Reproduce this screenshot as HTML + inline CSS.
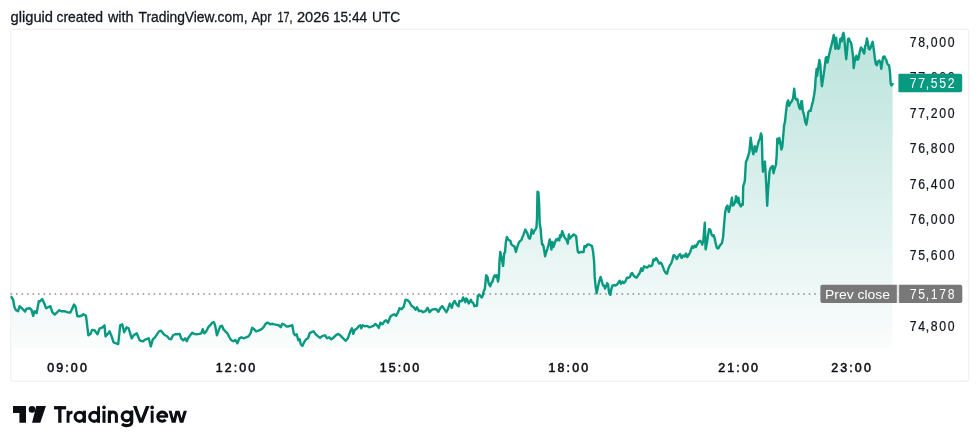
<!DOCTYPE html>
<html><head><meta charset="utf-8">
<style>
html,body{margin:0;padding:0;width:980px;height:448px;background:#ffffff;overflow:hidden;}
body{position:relative;font-family:"Liberation Sans", sans-serif;}
svg{position:absolute;left:0;top:0;display:block;will-change:transform;}
text{font-family:"Liberation Sans", sans-serif;}
</style></head>
<body>
<svg width="980" height="448" viewBox="0 0 980 448">
<defs>
<linearGradient id="fg" x1="0" y1="30" x2="0" y2="348" gradientUnits="userSpaceOnUse">
<stop offset="0" stop-color="#089981" stop-opacity="0.28"/>
<stop offset="1" stop-color="#089981" stop-opacity="0.02"/>
</linearGradient>
</defs>
<g font-size="14.4" fill="#131722" stroke="#131722" stroke-width="0.3"><text x="10.5" y="21.5" textLength="42.5" lengthAdjust="spacingAndGlyphs">gliguid</text><text x="56.5" y="21.5" textLength="46.5" lengthAdjust="spacingAndGlyphs">created</text><text x="108.0" y="21.5" textLength="25.5" lengthAdjust="spacingAndGlyphs">with</text><text x="138.5" y="21.5" textLength="109.0" lengthAdjust="spacingAndGlyphs">TradingView.com,</text><text x="251.5" y="21.5" textLength="20.0" lengthAdjust="spacingAndGlyphs">Apr</text><text x="277.5" y="21.5" textLength="15.0" lengthAdjust="spacingAndGlyphs">17,</text><text x="297.0" y="21.5" textLength="32.5" lengthAdjust="spacingAndGlyphs">2026</text><text x="333.0" y="21.5" textLength="34.0" lengthAdjust="spacingAndGlyphs">15:44</text><text x="372.0" y="21.5" textLength="28.2" lengthAdjust="spacingAndGlyphs">UTC</text></g>
<rect x="10.7" y="29.3" width="958" height="351.9" rx="2.5" fill="#fff" stroke="#f1f3f2" stroke-width="1.4"/>
<path d="M11.5 348 L11.5 297.1 L13.1 299.7 L14.5 307.2 L16.1 310.2 L18.1 311.2 L19.5 306.2 L21.7 308.2 L23.7 310.2 L25.1 311.6 L26.5 308.6 L29.7 308.2 L31.6 310.2 L33.2 315.8 L34.6 311.2 L36.6 313.2 L38.8 301.2 L40.2 301.2 L42.2 299.1 L44.2 303.2 L46.2 308.2 L48.2 307.2 L50.3 306.2 L52.3 312.2 L54.7 314.6 L57.3 312.2 L59.3 310.2 L61.3 311.2 L64.3 311.2 L67.3 312.2 L70.4 312.6 L72.4 308.2 L74 304.6 L75.4 306.2 L77.4 316.2 L79.4 316.2 L81.4 315.8 L83.4 314.2 L86 315.8 L88.4 335.3 L90.5 333.9 L92.1 329.9 L94.5 330.3 L97.5 334.3 L99.5 328.7 L102.5 327.3 L104.5 325.3 L105.5 336.3 L107.5 334.3 L109.5 331.3 L111.6 336.3 L113.6 342.4 L116.2 343.4 L118.2 344 L120.2 325.3 L122.2 324.3 L124.2 332.3 L126.6 327.3 L128.6 328.3 L131.7 338.3 L133.7 335.3 L136.7 333.3 L139.7 340.4 L142.7 341.4 L145.7 339.3 L148.7 338.3 L150.8 346.4 L152.8 339.3 L155 337.3 L157 334.3 L159 331.3 L161 330.7 L163.1 333.3 L165.1 335.3 L167.1 336.3 L169.1 338.7 L171.1 339.3 L173.1 335.3 L175.1 334.3 L177.1 334.3 L179.7 333.9 L181.2 338.3 L183.2 340.3 L185.2 338.3 L186.8 341.3 L188.2 337.9 L190.2 335.3 L192.2 332.7 L194.2 333.9 L196.2 334.3 L199.2 333.9 L201.3 333.3 L202.7 329.2 L204.3 333.3 L206.3 331.3 L208.3 327.2 L210.3 325.2 L212.3 322.6 L213.9 322.2 L215.3 326.2 L216.9 335.3 L218.7 330.3 L220.4 326.2 L222 325.8 L223.4 329.2 L225.4 331.3 L227.4 333.3 L229.4 337.3 L231.4 340.3 L233.4 341.3 L235.4 339.9 L237.4 343.3 L239.4 338.3 L241.5 337.3 L243.5 338.3 L246.1 337.3 L248.5 336.3 L250.5 333.3 L252.1 327.8 L254.1 329.2 L256.1 331.3 L258.5 330.7 L261.6 329.2 L263.6 327.2 L265.6 323.8 L267.6 322.6 L270.2 324.2 L272.6 323.8 L275.6 324.6 L278.6 325.2 L280.7 327.2 L282.3 323.8 L284.3 324.6 L286.7 326.6 L288.7 326.2 L290.7 325.8 L292.3 325.2 L293.7 333.3 L295.1 335.3 L296.7 334.3 L298.3 340.3 L299.7 339.3 L300.8 344.3 L302.4 346 L304 342.4 L306 339.3 L308 338.3 L309.6 333.3 L311.7 331.9 L313.7 331.3 L315.7 334.3 L318.1 336.3 L320.1 337.9 L322.5 335.9 L325.1 335.3 L327.1 338.3 L329.1 337.3 L331.2 339.3 L333.2 337.9 L335.8 335.3 L338.2 333.9 L340.2 335.3 L342.2 337.3 L344.2 339.3 L345.8 340.8 L347.8 338.3 L350.3 331.3 L351.9 328.3 L353.3 333.9 L354.7 329.9 L356.7 328.7 L358.7 326.3 L360.3 325.3 L361.3 328.3 L362.7 325.3 L364.7 326.3 L367.3 325.9 L369.3 327.3 L371.4 326.7 L373.4 325.9 L375.4 323.9 L377.4 325.9 L378.8 327.9 L380.4 322.7 L382.4 324.3 L384.4 321.3 L386 320.3 L388 322.7 L390.1 317.2 L392.1 315.2 L394.1 314.2 L396.1 315.8 L398.1 312.2 L399.5 308.2 L401.5 309.2 L403.5 307.2 L405.5 299.7 L407.5 300.2 L409.5 302.2 L411.6 305.8 L413.6 307.2 L415.6 309.8 L417 307.2 L419 311.2 L421 310.6 L423 312.2 L425.6 311.2 L427.6 307.8 L429.6 312.2 L431.7 309.8 L433.7 309.2 L436.3 309.2 L438.3 311.8 L440.3 308.2 L442.3 306.2 L444.3 309.2 L446.3 312.2 L447.7 309.7 L448.9 306 L449.8 303.6 L450.7 305.7 L451.9 307.8 L452.9 303.5 L454.6 300.9 L455.9 303.5 L457.2 305.1 L458.6 306.2 L459.4 300.9 L460.7 301.4 L461.8 301.1 L463.1 297.4 L464.2 300 L465.3 302.2 L466.1 298.4 L467.1 299.2 L468.7 303.5 L469.8 301.9 L470.9 299.8 L472 302.2 L473.3 303 L474.4 306.2 L475.7 305.7 L477 305.7 L477.8 296 L478.9 295 L480 295.2 L480.8 296.8 L481.9 297.4 L482.9 295 L483.7 291.2 L484.8 289.1 L486.2 275.3 L487.5 276.9 L488.6 283.1 L490.2 286.3 L491.2 283.1 L492.5 281.6 L493.8 276.9 L494.8 275.3 L495.9 276.9 L496.9 275.3 L498 281.6 L498.8 276.9 L499.5 261.2 L500.3 251.9 L501.1 255.8 L502.2 261.2 L503.1 265.9 L504.2 253.4 L505 252.7 L505.8 242.5 L506.9 237 L508.1 239.4 L509.4 240.2 L510.5 240.9 L511.2 244.1 L512.8 245.6 L514.4 246.4 L515.9 251.9 L517.2 247.2 L518.3 244.1 L519.4 241.7 L521.3 240.1 L523.3 235.1 L525.3 229.6 L527.3 233.1 L528.9 238.1 L530 238.6 L530.8 235.2 L531.7 229.4 L532.5 231.1 L533.3 233.6 L534.2 231.1 L535.4 229.4 L536.4 227.7 L537 218.5 L537.5 191.7 L538.4 192.5 L539.2 205.1 L539.7 223.5 L540.6 228.5 L541.4 238.6 L542.1 244.5 L543.1 244.5 L544.2 250.3 L545.1 256.2 L546.2 252 L547.2 249.5 L548.4 245.3 L549.8 239.4 L550.6 243.6 L551.4 249.5 L552.3 241.9 L553.4 247 L554.8 242.8 L556 239.4 L557.1 240.3 L558.1 238.6 L559.3 240.3 L560.1 235.2 L561 236.9 L562.2 231.1 L563.2 233.6 L564.3 236.9 L565.5 238.6 L566.8 240.3 L567.8 243.6 L568.9 234.4 L569.9 238.6 L571 236.9 L572.2 236.1 L573.5 234.4 L574.9 235.2 L576.1 236.1 L576.9 243.6 L577.7 251.2 L578.9 252.8 L580.2 252 L581.9 252 L583.6 252 L584.4 246.1 L585.8 247 L587.4 244.5 L589.1 244.5 L590.6 245.3 L592 246.1 L593.1 251.9 L594.1 261.3 L594.7 276.9 L595.6 286.3 L596.7 293.3 L597.8 287.8 L599.1 281.6 L600.6 276.9 L601.9 281.6 L603 285.5 L604.1 285.5 L605 288.6 L606.1 286.3 L607.2 283.1 L608.1 284.7 L609.2 293.3 L610.3 294.8 L611.3 289.4 L612.3 285.9 L613.9 285 L615.5 285.5 L617 284.7 L618.6 282.3 L619.7 280.8 L620.9 283.9 L622.5 281.6 L623.8 283.1 L625.3 281.6 L626.9 277.7 L628.4 277.7 L630 276.9 L631.1 273.8 L632.2 273 L633.4 275.3 L635 276.9 L636.6 277.7 L638.1 275.3 L639.7 273 L641.3 268.3 L642.5 270.9 L644.1 266.3 L645.9 267.2 L647.5 267.5 L649.1 265.6 L650.6 266.3 L652.2 265.2 L653.4 259.4 L654.5 260.5 L656.1 258.1 L657.7 260.5 L659 263.6 L660.5 262.6 L661.8 264.1 L663 267.1 L664.5 271.1 L666 273.2 L667 273.7 L668.1 269.6 L669.6 265.6 L671.1 263.6 L672.3 260.1 L673.6 255.1 L675.1 256.1 L676.9 259.1 L678.6 255.6 L680.1 254.1 L681.6 258.1 L683.1 255.6 L684.6 256.6 L686.1 253.6 L687.3 257.1 L688.6 255.1 L690 252.5 L691.3 248.6 L692.3 246.3 L693.4 247.8 L694.7 245.5 L695.9 247 L697.5 243.9 L698.6 241.6 L700.2 240.8 L701.3 242.3 L702.2 244.7 L703.3 240.8 L704.8 222.8 L705.6 249.4 L706.9 243.1 L708 235.3 L709.1 229.1 L710.3 229.8 L711.6 234.5 L712.7 236.1 L713.8 235.3 L714.7 238.4 L715.8 243.9 L716.9 247.8 L718.1 248.6 L719.4 246.3 L720.5 244.7 L722 243.1 L723.1 236.9 L724.1 224.4 L725.2 211.9 L726.3 207.2 L727.5 205.6 L728.8 211.9 L729.8 208 L730.9 204.1 L731.9 197.8 L732.8 205.6 L733.8 204.8 L735 202.5 L736.1 196.3 L736.9 198.6 L737.7 202.5 L738.4 197.8 L739.7 204.8 L740.8 206.4 L741.9 204.1 L742.8 204.8 L743.2 186.4 L744.8 181.1 L745.9 162.3 L747.5 158.3 L749.4 151.6 L750.7 137.7 L752.1 148.9 L753.4 154.3 L754.7 146.3 L756.1 151.6 L757.4 146.3 L758.8 140.9 L760.1 138.2 L760.9 133.4 L761.8 136.1 L762.5 164.5 L763 171.7 L764 163 L764.9 161.6 L765.4 168.8 L766.3 186.2 L767.2 205.8 L768 190.6 L768.8 181.9 L769.5 171.7 L770.6 168.1 L771.7 166.7 L772.7 165.9 L773.5 173.2 L774.6 168.8 L776 164.5 L776.7 155 L777.3 138.8 L778.2 143.2 L779.3 137.9 L780.2 142.3 L781.4 149.5 L782.3 146.8 L783.2 136.1 L784.1 125.4 L785 121.8 L785.9 112.9 L787.1 103 L788.2 100.4 L789.1 105.7 L790.4 103 L791.8 101.2 L793 98.6 L794.2 88.8 L795.3 98.1 L796.3 99.7 L797.3 98.9 L798.1 102.8 L799.2 107.5 L800.2 109.1 L801.3 101.3 L802 101.3 L802.8 110.6 L804.1 115.3 L805.2 121.6 L806.3 124.7 L807.2 120 L808.3 112.2 L809.4 110.6 L810.6 110.9 L811.9 105.2 L813 101.3 L814.1 95 L815 88.8 L815.6 79.4 L816.6 69 L817.1 75.8 L818 69.5 L819.4 59.9 L820.3 64 L821.2 79.2 L821.9 86.2 L823 79.2 L824.4 69.5 L825.8 57.8 L826.8 57.1 L827.5 62.6 L828.6 57.1 L829.5 52.9 L830.9 47.4 L832.3 41.9 L833.7 34.9 L834.7 41.9 L835.4 48.8 L836.1 37.7 L837.2 47.4 L838.3 48.8 L839.2 48.1 L840.2 39.1 L841 38.4 L841.7 41.2 L842.7 34.9 L843.4 32.8 L844.1 36.3 L845.2 48.8 L846.2 59.2 L847.1 50.2 L848 39.1 L848.9 38.4 L849.9 41.2 L851 42.5 L852.1 48.8 L853.1 57 L853.7 68.1 L854.5 62.6 L855.5 57.7 L856.4 55.7 L857.5 59.8 L858.6 58.4 L859.6 52.2 L861 47.4 L862.4 49.4 L863.3 52.2 L864.2 53.6 L865.1 46 L866.1 44.6 L866.9 38.4 L867.9 43.2 L868.6 48.7 L869.7 49.4 L870.7 47.4 L871.6 44.6 L872.7 41.8 L873.9 50.1 L874.8 57.7 L875.8 64 L876.9 65.3 L878 61.2 L879.4 60.5 L880.4 62.6 L881.3 68.8 L882.2 62.6 L883.1 57 L884.5 56.4 L885.5 59.1 L886.3 59.8 L886.9 62.6 L888 64.7 L889.1 65.3 L890 72.3 L890.7 83.3 L891.4 85.4 L892.6 84 L892.6 348 Z" fill="url(#fg)"/>
<line x1="10.5" y1="293.9" x2="820" y2="293.9" stroke="#8f8f8f" stroke-width="1.5" stroke-dasharray="1.6 3.905"/>
<path d="M11.5 297.1 L13.1 299.7 L14.5 307.2 L16.1 310.2 L18.1 311.2 L19.5 306.2 L21.7 308.2 L23.7 310.2 L25.1 311.6 L26.5 308.6 L29.7 308.2 L31.6 310.2 L33.2 315.8 L34.6 311.2 L36.6 313.2 L38.8 301.2 L40.2 301.2 L42.2 299.1 L44.2 303.2 L46.2 308.2 L48.2 307.2 L50.3 306.2 L52.3 312.2 L54.7 314.6 L57.3 312.2 L59.3 310.2 L61.3 311.2 L64.3 311.2 L67.3 312.2 L70.4 312.6 L72.4 308.2 L74 304.6 L75.4 306.2 L77.4 316.2 L79.4 316.2 L81.4 315.8 L83.4 314.2 L86 315.8 L88.4 335.3 L90.5 333.9 L92.1 329.9 L94.5 330.3 L97.5 334.3 L99.5 328.7 L102.5 327.3 L104.5 325.3 L105.5 336.3 L107.5 334.3 L109.5 331.3 L111.6 336.3 L113.6 342.4 L116.2 343.4 L118.2 344 L120.2 325.3 L122.2 324.3 L124.2 332.3 L126.6 327.3 L128.6 328.3 L131.7 338.3 L133.7 335.3 L136.7 333.3 L139.7 340.4 L142.7 341.4 L145.7 339.3 L148.7 338.3 L150.8 346.4 L152.8 339.3 L155 337.3 L157 334.3 L159 331.3 L161 330.7 L163.1 333.3 L165.1 335.3 L167.1 336.3 L169.1 338.7 L171.1 339.3 L173.1 335.3 L175.1 334.3 L177.1 334.3 L179.7 333.9 L181.2 338.3 L183.2 340.3 L185.2 338.3 L186.8 341.3 L188.2 337.9 L190.2 335.3 L192.2 332.7 L194.2 333.9 L196.2 334.3 L199.2 333.9 L201.3 333.3 L202.7 329.2 L204.3 333.3 L206.3 331.3 L208.3 327.2 L210.3 325.2 L212.3 322.6 L213.9 322.2 L215.3 326.2 L216.9 335.3 L218.7 330.3 L220.4 326.2 L222 325.8 L223.4 329.2 L225.4 331.3 L227.4 333.3 L229.4 337.3 L231.4 340.3 L233.4 341.3 L235.4 339.9 L237.4 343.3 L239.4 338.3 L241.5 337.3 L243.5 338.3 L246.1 337.3 L248.5 336.3 L250.5 333.3 L252.1 327.8 L254.1 329.2 L256.1 331.3 L258.5 330.7 L261.6 329.2 L263.6 327.2 L265.6 323.8 L267.6 322.6 L270.2 324.2 L272.6 323.8 L275.6 324.6 L278.6 325.2 L280.7 327.2 L282.3 323.8 L284.3 324.6 L286.7 326.6 L288.7 326.2 L290.7 325.8 L292.3 325.2 L293.7 333.3 L295.1 335.3 L296.7 334.3 L298.3 340.3 L299.7 339.3 L300.8 344.3 L302.4 346 L304 342.4 L306 339.3 L308 338.3 L309.6 333.3 L311.7 331.9 L313.7 331.3 L315.7 334.3 L318.1 336.3 L320.1 337.9 L322.5 335.9 L325.1 335.3 L327.1 338.3 L329.1 337.3 L331.2 339.3 L333.2 337.9 L335.8 335.3 L338.2 333.9 L340.2 335.3 L342.2 337.3 L344.2 339.3 L345.8 340.8 L347.8 338.3 L350.3 331.3 L351.9 328.3 L353.3 333.9 L354.7 329.9 L356.7 328.7 L358.7 326.3 L360.3 325.3 L361.3 328.3 L362.7 325.3 L364.7 326.3 L367.3 325.9 L369.3 327.3 L371.4 326.7 L373.4 325.9 L375.4 323.9 L377.4 325.9 L378.8 327.9 L380.4 322.7 L382.4 324.3 L384.4 321.3 L386 320.3 L388 322.7 L390.1 317.2 L392.1 315.2 L394.1 314.2 L396.1 315.8 L398.1 312.2 L399.5 308.2 L401.5 309.2 L403.5 307.2 L405.5 299.7 L407.5 300.2 L409.5 302.2 L411.6 305.8 L413.6 307.2 L415.6 309.8 L417 307.2 L419 311.2 L421 310.6 L423 312.2 L425.6 311.2 L427.6 307.8 L429.6 312.2 L431.7 309.8 L433.7 309.2 L436.3 309.2 L438.3 311.8 L440.3 308.2 L442.3 306.2 L444.3 309.2 L446.3 312.2 L447.7 309.7 L448.9 306 L449.8 303.6 L450.7 305.7 L451.9 307.8 L452.9 303.5 L454.6 300.9 L455.9 303.5 L457.2 305.1 L458.6 306.2 L459.4 300.9 L460.7 301.4 L461.8 301.1 L463.1 297.4 L464.2 300 L465.3 302.2 L466.1 298.4 L467.1 299.2 L468.7 303.5 L469.8 301.9 L470.9 299.8 L472 302.2 L473.3 303 L474.4 306.2 L475.7 305.7 L477 305.7 L477.8 296 L478.9 295 L480 295.2 L480.8 296.8 L481.9 297.4 L482.9 295 L483.7 291.2 L484.8 289.1 L486.2 275.3 L487.5 276.9 L488.6 283.1 L490.2 286.3 L491.2 283.1 L492.5 281.6 L493.8 276.9 L494.8 275.3 L495.9 276.9 L496.9 275.3 L498 281.6 L498.8 276.9 L499.5 261.2 L500.3 251.9 L501.1 255.8 L502.2 261.2 L503.1 265.9 L504.2 253.4 L505 252.7 L505.8 242.5 L506.9 237 L508.1 239.4 L509.4 240.2 L510.5 240.9 L511.2 244.1 L512.8 245.6 L514.4 246.4 L515.9 251.9 L517.2 247.2 L518.3 244.1 L519.4 241.7 L521.3 240.1 L523.3 235.1 L525.3 229.6 L527.3 233.1 L528.9 238.1 L530 238.6 L530.8 235.2 L531.7 229.4 L532.5 231.1 L533.3 233.6 L534.2 231.1 L535.4 229.4 L536.4 227.7 L537 218.5 L537.5 191.7 L538.4 192.5 L539.2 205.1 L539.7 223.5 L540.6 228.5 L541.4 238.6 L542.1 244.5 L543.1 244.5 L544.2 250.3 L545.1 256.2 L546.2 252 L547.2 249.5 L548.4 245.3 L549.8 239.4 L550.6 243.6 L551.4 249.5 L552.3 241.9 L553.4 247 L554.8 242.8 L556 239.4 L557.1 240.3 L558.1 238.6 L559.3 240.3 L560.1 235.2 L561 236.9 L562.2 231.1 L563.2 233.6 L564.3 236.9 L565.5 238.6 L566.8 240.3 L567.8 243.6 L568.9 234.4 L569.9 238.6 L571 236.9 L572.2 236.1 L573.5 234.4 L574.9 235.2 L576.1 236.1 L576.9 243.6 L577.7 251.2 L578.9 252.8 L580.2 252 L581.9 252 L583.6 252 L584.4 246.1 L585.8 247 L587.4 244.5 L589.1 244.5 L590.6 245.3 L592 246.1 L593.1 251.9 L594.1 261.3 L594.7 276.9 L595.6 286.3 L596.7 293.3 L597.8 287.8 L599.1 281.6 L600.6 276.9 L601.9 281.6 L603 285.5 L604.1 285.5 L605 288.6 L606.1 286.3 L607.2 283.1 L608.1 284.7 L609.2 293.3 L610.3 294.8 L611.3 289.4 L612.3 285.9 L613.9 285 L615.5 285.5 L617 284.7 L618.6 282.3 L619.7 280.8 L620.9 283.9 L622.5 281.6 L623.8 283.1 L625.3 281.6 L626.9 277.7 L628.4 277.7 L630 276.9 L631.1 273.8 L632.2 273 L633.4 275.3 L635 276.9 L636.6 277.7 L638.1 275.3 L639.7 273 L641.3 268.3 L642.5 270.9 L644.1 266.3 L645.9 267.2 L647.5 267.5 L649.1 265.6 L650.6 266.3 L652.2 265.2 L653.4 259.4 L654.5 260.5 L656.1 258.1 L657.7 260.5 L659 263.6 L660.5 262.6 L661.8 264.1 L663 267.1 L664.5 271.1 L666 273.2 L667 273.7 L668.1 269.6 L669.6 265.6 L671.1 263.6 L672.3 260.1 L673.6 255.1 L675.1 256.1 L676.9 259.1 L678.6 255.6 L680.1 254.1 L681.6 258.1 L683.1 255.6 L684.6 256.6 L686.1 253.6 L687.3 257.1 L688.6 255.1 L690 252.5 L691.3 248.6 L692.3 246.3 L693.4 247.8 L694.7 245.5 L695.9 247 L697.5 243.9 L698.6 241.6 L700.2 240.8 L701.3 242.3 L702.2 244.7 L703.3 240.8 L704.8 222.8 L705.6 249.4 L706.9 243.1 L708 235.3 L709.1 229.1 L710.3 229.8 L711.6 234.5 L712.7 236.1 L713.8 235.3 L714.7 238.4 L715.8 243.9 L716.9 247.8 L718.1 248.6 L719.4 246.3 L720.5 244.7 L722 243.1 L723.1 236.9 L724.1 224.4 L725.2 211.9 L726.3 207.2 L727.5 205.6 L728.8 211.9 L729.8 208 L730.9 204.1 L731.9 197.8 L732.8 205.6 L733.8 204.8 L735 202.5 L736.1 196.3 L736.9 198.6 L737.7 202.5 L738.4 197.8 L739.7 204.8 L740.8 206.4 L741.9 204.1 L742.8 204.8 L743.2 186.4 L744.8 181.1 L745.9 162.3 L747.5 158.3 L749.4 151.6 L750.7 137.7 L752.1 148.9 L753.4 154.3 L754.7 146.3 L756.1 151.6 L757.4 146.3 L758.8 140.9 L760.1 138.2 L760.9 133.4 L761.8 136.1 L762.5 164.5 L763 171.7 L764 163 L764.9 161.6 L765.4 168.8 L766.3 186.2 L767.2 205.8 L768 190.6 L768.8 181.9 L769.5 171.7 L770.6 168.1 L771.7 166.7 L772.7 165.9 L773.5 173.2 L774.6 168.8 L776 164.5 L776.7 155 L777.3 138.8 L778.2 143.2 L779.3 137.9 L780.2 142.3 L781.4 149.5 L782.3 146.8 L783.2 136.1 L784.1 125.4 L785 121.8 L785.9 112.9 L787.1 103 L788.2 100.4 L789.1 105.7 L790.4 103 L791.8 101.2 L793 98.6 L794.2 88.8 L795.3 98.1 L796.3 99.7 L797.3 98.9 L798.1 102.8 L799.2 107.5 L800.2 109.1 L801.3 101.3 L802 101.3 L802.8 110.6 L804.1 115.3 L805.2 121.6 L806.3 124.7 L807.2 120 L808.3 112.2 L809.4 110.6 L810.6 110.9 L811.9 105.2 L813 101.3 L814.1 95 L815 88.8 L815.6 79.4 L816.6 69 L817.1 75.8 L818 69.5 L819.4 59.9 L820.3 64 L821.2 79.2 L821.9 86.2 L823 79.2 L824.4 69.5 L825.8 57.8 L826.8 57.1 L827.5 62.6 L828.6 57.1 L829.5 52.9 L830.9 47.4 L832.3 41.9 L833.7 34.9 L834.7 41.9 L835.4 48.8 L836.1 37.7 L837.2 47.4 L838.3 48.8 L839.2 48.1 L840.2 39.1 L841 38.4 L841.7 41.2 L842.7 34.9 L843.4 32.8 L844.1 36.3 L845.2 48.8 L846.2 59.2 L847.1 50.2 L848 39.1 L848.9 38.4 L849.9 41.2 L851 42.5 L852.1 48.8 L853.1 57 L853.7 68.1 L854.5 62.6 L855.5 57.7 L856.4 55.7 L857.5 59.8 L858.6 58.4 L859.6 52.2 L861 47.4 L862.4 49.4 L863.3 52.2 L864.2 53.6 L865.1 46 L866.1 44.6 L866.9 38.4 L867.9 43.2 L868.6 48.7 L869.7 49.4 L870.7 47.4 L871.6 44.6 L872.7 41.8 L873.9 50.1 L874.8 57.7 L875.8 64 L876.9 65.3 L878 61.2 L879.4 60.5 L880.4 62.6 L881.3 68.8 L882.2 62.6 L883.1 57 L884.5 56.4 L885.5 59.1 L886.3 59.8 L886.9 62.6 L888 64.7 L889.1 65.3 L890 72.3 L890.7 83.3 L891.4 85.4 L892.6 84" fill="none" stroke="#089981" stroke-width="2.4" stroke-linejoin="round" stroke-linecap="round"/>
<g font-size="14.4" fill="#131722" stroke="#131722" stroke-width="0.25" text-anchor="end" letter-spacing="2.0" transform="scale(0.85 1)">
<text x="1124.9" y="46.8">78<tspan dx="-1.2">,</tspan><tspan dx="-0.3">000</tspan></text>
<text x="1124.9" y="82.3">77<tspan dx="-1.2">,</tspan><tspan dx="-0.3">600</tspan></text>
<text x="1124.9" y="117.8">77<tspan dx="-1.2">,</tspan><tspan dx="-0.3">200</tspan></text>
<text x="1124.9" y="153.3">76<tspan dx="-1.2">,</tspan><tspan dx="-0.3">800</tspan></text>
<text x="1124.9" y="188.8">76<tspan dx="-1.2">,</tspan><tspan dx="-0.3">400</tspan></text>
<text x="1124.9" y="224.3">76<tspan dx="-1.2">,</tspan><tspan dx="-0.3">000</tspan></text>
<text x="1124.9" y="259.8">75<tspan dx="-1.2">,</tspan><tspan dx="-0.3">600</tspan></text>
<text x="1124.9" y="331">74<tspan dx="-1.2">,</tspan><tspan dx="-0.3">800</tspan></text>
</g>
<path d="M898.4 74.6 Q898.4 73.8 899.2 73.8 H960.2 Q962.2 73.8 962.2 75.8 V90.2 Q962.2 92.2 960.2 92.2 H899.2 Q898.4 92.2 898.4 91.4 Z" fill="#089981"/>
<text x="1124.9" y="87.8" font-size="14.4" fill="#fff" text-anchor="end" letter-spacing="2.0" transform="scale(0.85 1)">77<tspan dx="-1.2">,</tspan><tspan dx="-0.3">552</tspan></text>
<path d="M822.4 284.8 H896.9 V302.9 H822.4 Q820.4 302.9 820.4 300.9 V286.8 Q820.4 284.8 822.4 284.8 Z" fill="#787878"/>
<rect x="896.9" y="284.8" width="2.2" height="18.1" fill="#e2e2e2"/>
<rect x="897.4" y="293" width="1.2" height="1.4" fill="#ffffff"/>
<path d="M899.1 284.8 H960.3 Q962.3 284.8 962.3 286.8 V300.9 Q962.3 302.9 960.3 302.9 H899.1 Z" fill="#787878"/>
<text x="825" y="298.6" font-size="13.3" fill="#fff" textLength="65" lengthAdjust="spacingAndGlyphs">Prev close</text>
<text x="1124.9" y="298.6" font-size="14.4" fill="#fff" text-anchor="end" letter-spacing="2.0" transform="scale(0.85 1)">75<tspan dx="-1.2">,</tspan><tspan dx="-0.3">178</tspan></text>
<g font-size="13.5" fill="#0e1015" stroke="#0e1015" stroke-width="0.6" text-anchor="middle" letter-spacing="2.3" transform="scale(0.92 1)">
<text x="74.0" y="371.6">09:00</text>
<text x="257.1" y="371.6">12:00</text>
<text x="435.3" y="371.6">15:00</text>
<text x="618.9" y="371.6">18:00</text>
<text x="803.4" y="371.6">21:00</text>
<text x="926.2" y="371.6">23:00</text>
</g>
<g fill="#0c0e14">
<path d="M13 406 H26 V422.8 H19.4 V413 H13 Z"/>
<circle cx="32" cy="409.4" r="3.3"/>
<path d="M36.2 406 H45.9 L40.3 422.8 H32.1 Z"/>
</g>
<g fill="#0c0e14">
<rect x="54" y="406.1" width="12.1" height="3.3"/>
<rect x="58.2" y="406.1" width="3.3" height="16.7"/>
<path d="M66.6 422.8 L66.6 410.7 L69.5 410.7 L69.5 412.2 C70.2 411.1 71.3 410.7 72.5 410.7 L72.5 413.8 C70.7 413.8 69.5 414.8 69.5 416.8 L69.5 422.8 Z"/>
<rect x="82.9" y="410.7" width="3" height="12.1"/>
<rect x="97.1" y="406.3" width="2.9" height="16.5"/>
<rect x="102.5" y="410.8" width="3" height="12"/>
<circle cx="104" cy="407.4" r="1.8"/>
<rect x="107.9" y="410.5" width="3" height="12.3"/>
<path d="M133 406.1 L136.6 406.1 L141.1 418.6 L145.9 406.1 L149.6 406.1 L143 422.8 L139.2 422.8 Z"/>
<rect x="150.7" y="410.7" width="2.9" height="12.1"/>
<circle cx="152.15" cy="407.4" r="1.85"/>
<rect x="157.2" y="415.3" width="10.9" height="2.4"/>
<path d="M168.6 410.8 L171.6 410.8 L173.6 418.3 L175.4 410.8 L179.5 410.8 L181.5 418.3 L183.7 410.8 L186.9 410.8 L183.3 422.7 L179.9 422.7 L177.5 414.6 L175.6 422.7 L171.8 422.7 Z"/>
</g>
<g fill="none" stroke="#0c0e14" stroke-width="3.05">
<circle cx="79.6" cy="416.8" r="4.55"/>
<circle cx="94.2" cy="416.8" r="4.55"/>
<path d="M109.4 422.8 V415.4 A3.5 3.5 0 0 1 116.4 415.4 V422.8"/>
<circle cx="126.7" cy="416.3" r="4.55"/>
<path d="M131.75 410.5 V422 C131.75 424.4 129.6 425.6 126.6 425.6 C124.6 425.6 123.1 425 122 424"/>
<path d="M166.7 416.5 A4.5 4.65 0 1 0 165.6 419.7"/>
</g>
</svg>
</body></html>
